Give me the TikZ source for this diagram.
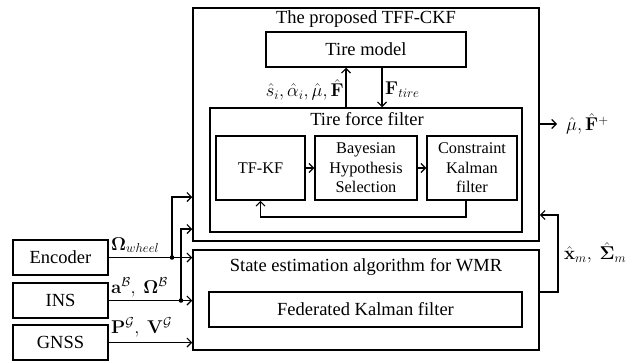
\RequirePackage{fix-cm}
\documentclass[tikz,border=0pt]{standalone}
\usepackage[no-math]{fontspec}
\setmainfont{Liberation Serif}
\usetikzlibrary{arrows.meta}
\begin{document}
\begin{tikzpicture}[x=1pt,y=-1pt,
  box/.style={draw,line width=1.5pt,inner sep=0pt},
  txt/.style={inner sep=0pt,font=\fontsize{18.5}{21}\selectfont},
  small/.style={inner sep=0pt,align=center,font=\fontsize{16.3}{19.5}\selectfont},
  conn/.style={line width=1.2pt},
  arr/.style={conn,-{Straight Barb[length=4.5pt,width=9pt,line width=1.1pt]}},
  dotn/.style={circle,fill,inner sep=0pt,minimum size=4.6pt}]
\useasboundingbox (0,0) rectangle (644,362);
% main boxes
\node[box,minimum width=346pt,minimum height=233pt] (outer) at (366,124.5) {};
\node[txt] (ttitle) at (366,19) {The proposed TFF-CKF};
\node[box,minimum width=200pt,minimum height=35pt,txt] (tire) at (366,49.5) {Tire model};
\node[box,minimum width=312pt,minimum height=124pt] (tff) at (366,170) {};
\node[txt] (tfftitle) at (367,119) {Tire force filter};
\node[box,minimum width=89pt,minimum height=64pt,small] (tfkf) at (260.5,168) {TF-KF};
\node[box,minimum width=102pt,minimum height=64pt,small] (bay) at (366,168) {Bayesian\\Hypothesis\\Selection};
\node[box,minimum width=90pt,minimum height=64pt,small] (ckf) at (472,168) {Constraint\\Kalman\\filter};
\node[box,minimum width=346pt,minimum height=100pt] (state) at (366,300) {};
\node[txt] (stitle) at (366,267) {State estimation algorithm for WMR};
\node[box,minimum width=313pt,minimum height=35pt,txt] (fed) at (365.5,309.5) {Federated Kalman filter};
\node[box,minimum width=95pt,minimum height=35pt,txt] (enc) at (60.5,257.5) {Encoder};
\node[box,minimum width=95pt,minimum height=35pt,txt] (ins) at (60.5,300.5) {INS};
\node[box,minimum width=95pt,minimum height=35pt,txt] (gnss) at (60.5,342.5) {GNSS};
% helper coordinates
\coordinate (upx) at (346,0);
\coordinate (dnx) at (382,0);
\coordinate (fby) at (0,217);
\coordinate (encin) at (0,197);
\coordinate (insin) at (0,229);
\coordinate (outy) at (0,124);
\coordinate (sfy) at (0,292);
\coordinate (sfx) at (558,0);
\coordinate (sfin) at (0,215);
% labels
\node[txt,anchor=east] (lup) at (344,90) {$\hat{s}_i, \hat{\alpha}_i, \hat{\mu}, \hat{\mathbf{F}}$};
\node[txt,anchor=west] (ldn) at (385,90) {$\mathbf{F}_{tire}$};
\node[txt,anchor=west] (outlab) at (566,124) {$\hat{\mu},\hat{\mathbf{F}}^{+}$};
\node[txt,anchor=west] (xlab) at (564,253) {$\hat{\mathbf{x}}_m,\ \hat{\mathbf{\Sigma}}_m$};
\node[txt,anchor=base west] (lenc) at (111,250) {$\mathbf{\Omega}_{wheel}$};
\node[txt,anchor=base west] (lins) at (111,293) {$\mathbf{a}^{\mathcal{B}},\ \mathbf{\Omega}^{\mathcal{B}}$};
\node[txt,anchor=base west] (lgnss) at (111,333) {$\mathbf{P}^{\mathcal{G}},\ \mathbf{V}^{\mathcal{G}}$};
% connectors
\draw[arr] (tff.north -| upx) -- (tire.south -| upx);
\draw[arr] (tire.south -| dnx) -- (tff.north -| dnx);
\draw[arr] (tfkf.east) -- (bay.west);
\draw[arr] (bay.east) -- (ckf.west);
\draw[arr] ([xshift=-6pt]ckf.south) -- ([xshift=-6pt]ckf.south |- fby) -| (tfkf.south);
\draw[arr] (outer.east |- outy) -- ([xshift=-9pt]outlab.west);
\draw[arr] (state.east |- sfy) -- (sfx |- sfy) -- (sfx |- sfin) -- (outer.east |- sfin);
\draw[arr] (enc.east) -- (state.west |- enc.east);
\draw[arr] (ins.east) -- (state.west |- ins.east);
\draw[arr] (gnss.east) -- (state.west |- gnss.east);
\node[dotn] (edot) at (172,257.5) {};
\node[dotn] (idot) at (181,300.5) {};
\draw[arr] (edot.center) |- (outer.west |- encin);
\draw[arr] (idot.center) |- (outer.west |- insin);
\end{tikzpicture}
\end{document}
